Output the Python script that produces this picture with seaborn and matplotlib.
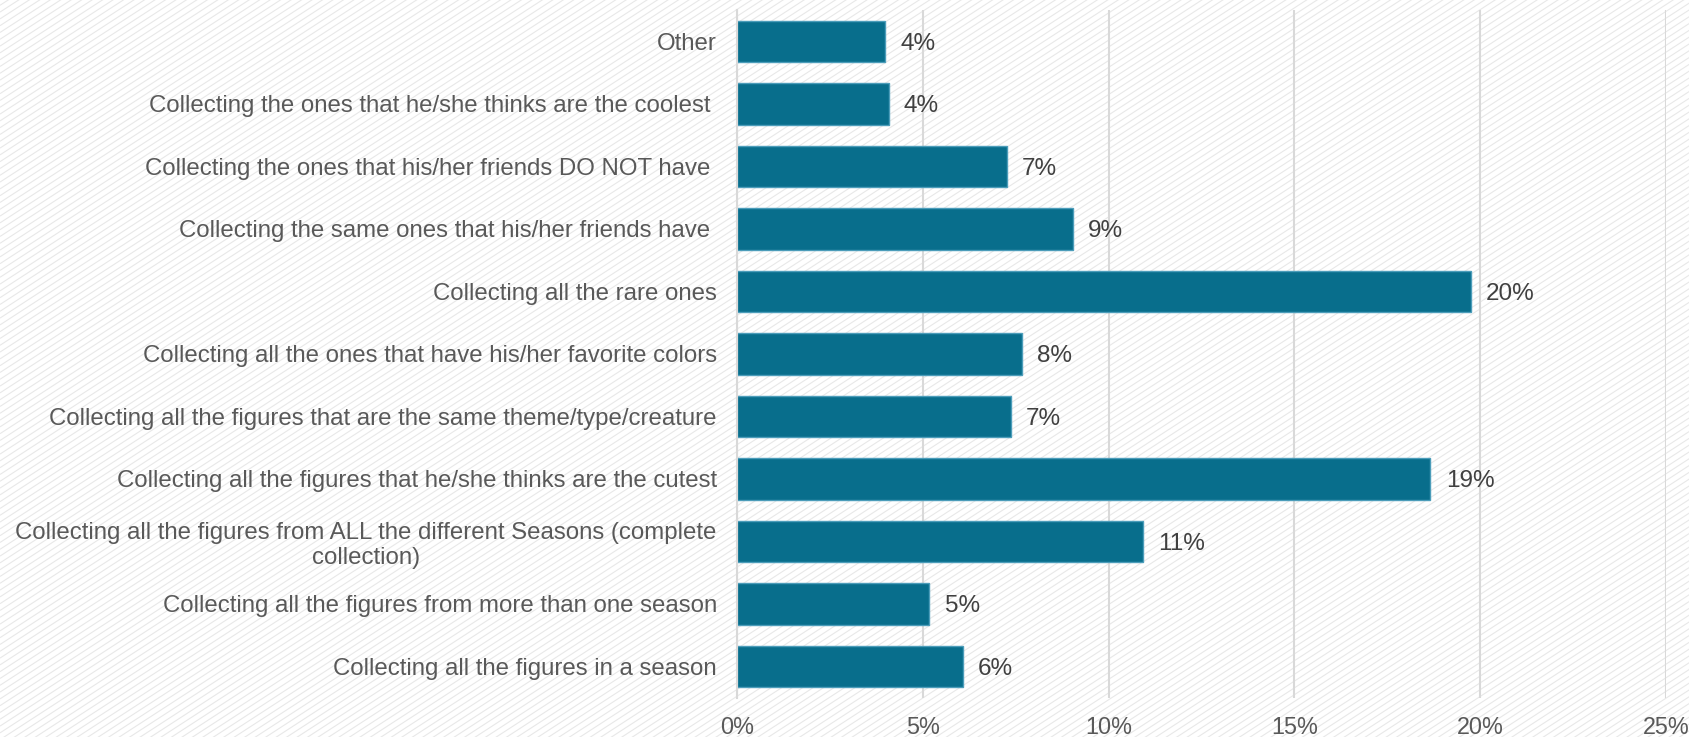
import numpy as np
import matplotlib
matplotlib.use("Agg")
import matplotlib.pyplot as plt
from matplotlib.collections import LineCollection
import pandas as pd
import seaborn as sns

# Collecting behaviour categories, top to bottom
categories = [
    "Other",
    "Collecting the ones that he/she thinks are the coolest ",
    "Collecting the ones that his/her friends DO NOT have ",
    "Collecting the same ones that his/her friends have ",
    "Collecting all the rare ones",
    "Collecting all the ones that have his/her favorite colors",
    "Collecting all the figures that are the same theme/type/creature",
    "Collecting all the figures that he/she thinks are the cutest",
    "Collecting all the figures from ALL the different Seasons (complete\ncollection)",
    "Collecting all the figures from more than one season",
    "Collecting all the figures in a season",
]
# Share of respondents, in percent
shares = [3.98, 4.08, 7.26, 9.04, 19.74, 7.66, 7.36, 18.66, 10.92, 5.18, 6.07]

x_ticks = [0, 5, 10, 15, 20, 25]
x_tick_labels = ["0%", "5%", "10%", "15%", "20%", "25%"]

BAR_COLOR = "#086E8C"
BAR_EDGE = "#4C9DBA"
TEXT_GREY = "#595959"
LABEL_GREY = "#404040"
GRID_GREY = "#D9D9D9"

sns.set_theme(style="white")
plt.rcParams["font.family"] = ["Liberation Sans", "DejaVu Sans"]

W, H = 1690, 737
fig = plt.figure(figsize=(W / 100, H / 100), dpi=100)
fig.patch.set_facecolor("white")

# Fine diagonal texture behind the whole chart
bg = fig.add_axes([0, 0, 1, 1], zorder=-5)
bg.set_xlim(0, W)
bg.set_ylim(0, H)
bg.axis("off")
slope = np.tan(np.radians(33))
step = 6.8
intercepts = np.arange(-W * slope - step, H + step, step)
segments = [[(0, c), (W, c + W * slope)] for c in intercepts]
bg.add_collection(LineCollection(segments, colors="#E8E8E8", linewidths=0.8))

ax = fig.add_axes([0.4361, 0.0533, 0.5497, 0.9328])
ax.set_facecolor("none")

df = pd.DataFrame({"category": categories, "share": shares})
sns.barplot(
    data=df, x="share", y="category", orient="h",
    color=BAR_COLOR, saturation=1, width=0.665,
    edgecolor=BAR_EDGE, linewidth=1.0, ax=ax,
)

ax.set_xlim(0, 25)
ax.set_xticks(x_ticks)
ax.set_xticklabels(x_tick_labels)
ax.set_xlabel("")
ax.set_ylabel("")

ax.xaxis.grid(True, color=GRID_GREY, linewidth=1.5)
ax.yaxis.grid(False)
ax.set_axisbelow(True)
for side in ("top", "right", "bottom"):
    ax.spines[side].set_visible(False)
ax.spines["left"].set_color(GRID_GREY)
ax.spines["left"].set_linewidth(1.5)

ax.tick_params(axis="x", length=0, labelsize=16.8, colors=TEXT_GREY, pad=13)
ax.tick_params(axis="y", length=0, labelsize=17.3, colors=TEXT_GREY, pad=14.5)
for lbl in ax.get_yticklabels():
    lbl.set_multialignment("center")

value_texts = ax.bar_label(
    ax.containers[0],
    labels=[f"{round(v)}%" for v in shares],
    padding=11, fontsize=17.5, color=LABEL_GREY,
)
for t in value_texts:
    t.set_verticalalignment("center_baseline")

fig.savefig("out.png", dpi=100)
